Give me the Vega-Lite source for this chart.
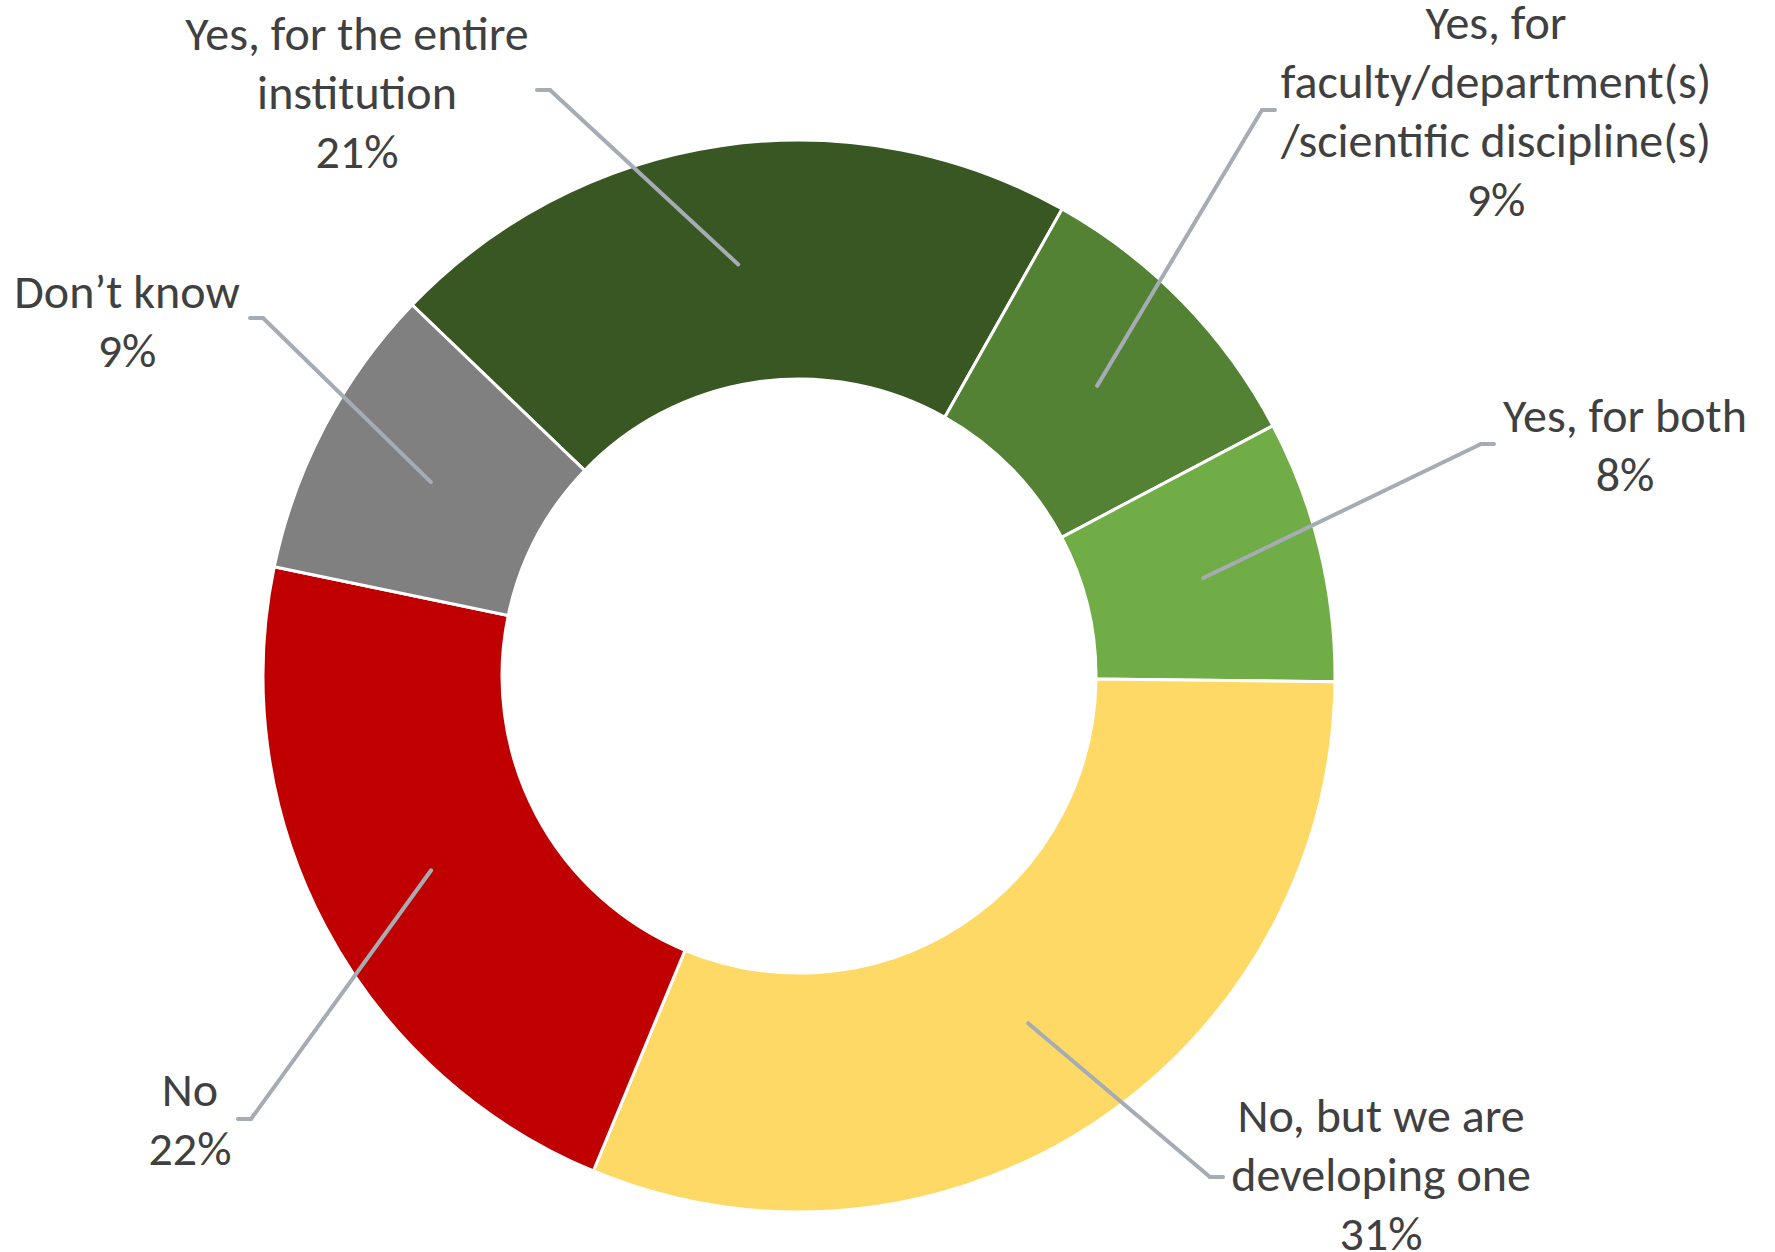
{
  "$schema": "https://vega.github.io/schema/vega-lite/v6.json",
  "width": 1775,
  "height": 1252,
  "padding": 0,
  "autosize": {"type": "none"},
  "background": "white",
  "config": {"view": {"stroke": null}},
  "data": {
    "values": [
      {"idx": 1, "cat": "Yes, for the entire institution", "label": "Yes, for the entire\ninstitution", "value": 21.0, "lx": -442, "ly": 640, "ex": -262, "ey": 586},
      {"idx": 2, "cat": "Yes, for faculty/department(s)/scientific discipline(s)", "label": "Yes, for\nfaculty/department(s)\n/scientific discipline(s)", "value": 9.1, "lx": 697, "ly": 651, "ex": 476, "ey": 566},
      {"idx": 3, "cat": "Yes, for both", "label": "Yes, for both", "value": 7.9, "lx": 826, "ly": 258, "ex": 695, "ey": 232},
      {"idx": 4, "cat": "No, but we are developing one", "label": "No, but we are\ndeveloping one", "value": 31.1, "lx": 582, "ly": -442, "ex": 424, "ey": -501},
      {"idx": 5, "cat": "No", "label": "No", "value": 22.0, "lx": -609, "ly": -416, "ex": -561, "ey": -443},
      {"idx": 6, "cat": "Don’t know", "label": "Don’t know", "value": 8.9, "lx": -672, "ly": 382, "ex": -549, "ey": 358}
    ]
  },
  "transform": [
    {"stack": "value", "groupby": [], "sort": [{"field": "idx", "order": "ascending"}], "as": ["v0", "v1"]},
    {"calculate": "-46.2*PI/180 + (datum.v0 + datum.v1)/100*PI", "as": "mid"},
    {"calculate": "416*sin(datum.mid)", "as": "mx"},
    {"calculate": "416*cos(datum.mid)", "as": "my"},
    {"calculate": "datum.ex + (datum.mx > datum.ex ? 13 : -13)", "as": "bx"},
    {"calculate": "datum.label + '\\n' + format(datum.value/100, '.0%')", "as": "txt"}
  ],
  "layer": [
    {
      "mark": {"type": "arc", "radius": 536, "radius2": 297, "stroke": "white", "strokeWidth": 3},
      "encoding": {
        "x": {"datum": 0, "type": "quantitative", "scale": {"domain": [-799, 976], "nice": false, "zero": false}, "axis": null},
        "y": {"datum": 0, "type": "quantitative", "scale": {"domain": [-576, 676], "nice": false, "zero": false}, "axis": null},
        "theta": {"field": "v0", "type": "quantitative", "scale": {"domain": [0, 100], "range": [-0.8063, 5.4769]}},
        "theta2": {"field": "v1"},
        "color": {
          "field": "cat", "type": "nominal", "legend": null,
          "scale": {
            "domain": ["Yes, for the entire institution", "Yes, for faculty/department(s)/scientific discipline(s)", "Yes, for both", "No, but we are developing one", "No", "Don’t know"],
            "range": ["#385723", "#548235", "#70ad47", "#ffd966", "#c00000", "#808080"]
          }
        }
      }
    },
    {
      "mark": {"type": "rule", "color": "#a5acb4", "strokeWidth": 4, "strokeCap": "round"},
      "encoding": {
        "x": {"field": "mx", "type": "quantitative"},
        "y": {"field": "my", "type": "quantitative"},
        "x2": {"field": "bx"},
        "y2": {"field": "ey"}
      }
    },
    {
      "mark": {"type": "rule", "color": "#a5acb4", "strokeWidth": 4, "strokeCap": "round"},
      "encoding": {
        "x": {"field": "bx", "type": "quantitative"},
        "y": {"field": "ey", "type": "quantitative"},
        "x2": {"field": "ex"}
      }
    },
    {
      "mark": {"type": "text", "font": "Carlito, Lato", "fontSize": 48, "lineHeight": 59, "lineBreak": "\n", "color": "#404040", "align": "center", "baseline": "middle"},
      "encoding": {
        "x": {"field": "lx", "type": "quantitative"},
        "y": {"field": "ly", "type": "quantitative"},
        "text": {"field": "txt", "type": "nominal"}
      }
    }
  ]
}
